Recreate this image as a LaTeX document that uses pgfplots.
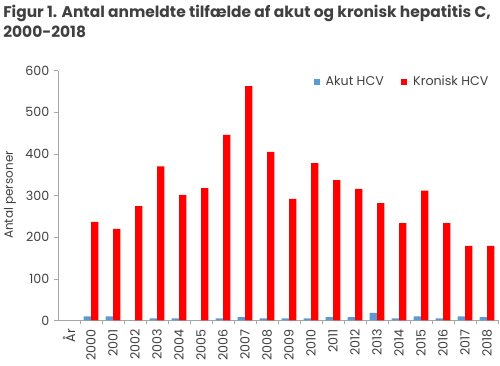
\documentclass[border=0pt]{standalone}
\usepackage{fontspec}
\setmainfont{Poppins}
\usepackage{pgfplots}
\pgfplotsset{compat=1.18}
\definecolor{akut}{HTML}{5B9BD5}
\definecolor{axgray}{HTML}{A6A6A6}
\definecolor{txt}{HTML}{404040}
\begin{document}
\begin{tikzpicture}
\useasboundingbox (0,0) rectangle (375pt,274.5pt);
\node[anchor=base west, font=\bfseries\fontsize{11.6}{14}\selectfont, text=txt, inner sep=0] at (2.25pt,261.4pt) {Figur 1. Antal anmeldte tilfælde af akut og kronisk hepatitis C,};
\node[anchor=base west, font=\bfseries\fontsize{11.6}{14}\selectfont, text=txt, inner sep=0] at (2.25pt,246.4pt) {2000-2018};
\node[rotate=90, font=\fontsize{9}{11}\selectfont, text=txt] at (7.5pt,128.25pt) {Antal personer};
\begin{axis}[
  at={(43.5pt,34.125pt)}, anchor=south west,
  width=330pt, height=187.35pt, scale only axis,
  ymin=0, ymax=600, ytick={0,100,...,600},
  xmin=-0.5, xmax=19.5,
  xtick={0,...,19},
  xticklabels={År,2000,2001,2002,2003,2004,2005,2006,2007,2008,2009,2010,2011,2012,2013,2014,2015,2016,2017,2018},
  x tick label style={rotate=90, anchor=east},
  major x tick style={draw=none},
  minor xtick={0.5,1.5,...,19.5},
  axis x line*=bottom, axis y line*=left,
  axis line style={axgray,-},
  tick style={axgray, thin},
  tick align=outside,
  major tick length=3pt, minor tick length=3pt,
  ticklabel style={font=\fontsize{9.5}{11}\selectfont, text=txt},
  /pgf/number format/assume math mode=true,
  ybar, bar width=5.5pt,
  legend image code/.code={\fill[#1] (0pt,-2.25pt) rectangle (4.5pt,2.25pt); \path (0pt,0pt) -- (7pt,0pt);},
  legend style={at={(0.985,0.955)}, anchor=east, draw=none, fill=none, inner sep=0pt,
    legend columns=2, font=\fontsize{9.5}{11}\selectfont, text=txt,
    /tikz/every even column/.append style={column sep=11pt}},
]
\addplot[fill=akut, draw=none, bar shift=-2.75pt] coordinates {
(1,10) (2,10) (3,0) (4,5) (5,5) (6,0) (7,5) (8,8) (9,5) (10,5)
(11,5) (12,8) (13,8) (14,18) (15,5) (16,10) (17,5) (18,10) (19,8)};
\addplot[fill=red, draw=none, bar shift=2.75pt] coordinates {
(1,237) (2,220) (3,275) (4,370) (5,302) (6,318) (7,446) (8,563) (9,405) (10,292)
(11,378) (12,337) (13,316) (14,282) (15,234) (16,312) (17,234) (18,179) (19,179)};
\legend{Akut HCV, Kronisk HCV}
\end{axis}
\end{tikzpicture}
\end{document}
